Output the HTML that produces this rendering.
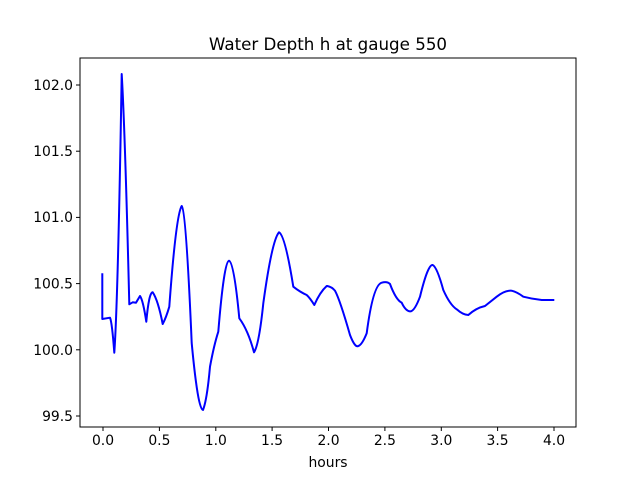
<!DOCTYPE html>
<html><head><style>body{margin:0;background:#fff}</style></head><body>
<svg width="640" height="480" xmlns="http://www.w3.org/2000/svg" font-family="DejaVu Sans, Liberation Sans, sans-serif" font-size="13.9">
<rect width="640" height="480" fill="#fff"/>
<text x="328" y="50" font-size="16.7" text-anchor="middle">Water Depth h at gauge 550</text>
<path fill="none" stroke="#0000ff" stroke-width="2" stroke-linejoin="round" stroke-linecap="square" d="M102.3,274.3 L102.3,319 L110,317.7 Q112,322 114.3,352.7 Q118,300 121.7,74 Q125,130 129.3,304.3 L132.7,302.3 L136,302.7 L140,296 Q143,300 146.3,321.7 Q149,292 152.7,292.3 Q158,300 162.7,324 Q166,318 169.3,306.7 Q176,215 181.7,206 Q186,210 191.7,343 Q198,410 203,410 Q207,400 210,366.7 Q214,345 218.3,331.7 Q224,262 229,260.7 Q234,262 239.3,318.3 Q248,330 254,352.3 Q259,345 263.3,303.3 Q272,240 279,232.3 Q285,235 293.3,286.7 Q300,292 306.7,295 Q310,298 314.3,305 Q320,292 326.7,286 L327.3,286 Q332,287 335,290.7 Q340,300 350,335 Q355,348 358.3,346 Q362,345 366.7,333.3 Q373,285 381.7,282.7 Q387,281 390,284 Q396,300 401.7,302.7 Q406,312 411,311.3 Q415,310 420,296.7 Q428,264 432.7,265 Q437,267 443.3,290 Q450,305 456.7,309.3 Q463,315 468.3,315 Q476,308 485,306 Q490,302 496.7,296.7 Q505,290 511.7,290.7 Q517,292 523.3,296.7 Q532,299 541.7,300 L553.3,300"/>
<rect x="80" y="58" width="496" height="369" fill="none" stroke="#000" stroke-width="1"/>
<g stroke="#000">
<line x1="103" y1="427" x2="103" y2="431"/><line x1="159.4" y1="427" x2="159.4" y2="431"/><line x1="215.8" y1="427" x2="215.8" y2="431"/><line x1="272.1" y1="427" x2="272.1" y2="431"/><line x1="328.5" y1="427" x2="328.5" y2="431"/><line x1="384.9" y1="427" x2="384.9" y2="431"/><line x1="441.3" y1="427" x2="441.3" y2="431"/><line x1="497.6" y1="427" x2="497.6" y2="431"/><line x1="554" y1="427" x2="554" y2="431"/>
<line x1="76" y1="85" x2="80" y2="85"/><line x1="76" y1="151.2" x2="80" y2="151.2"/><line x1="76" y1="217.4" x2="80" y2="217.4"/><line x1="76" y1="283.6" x2="80" y2="283.6"/><line x1="76" y1="349.8" x2="80" y2="349.8"/><line x1="76" y1="416" x2="80" y2="416"/>
</g>
<g text-anchor="middle">
<text x="103" y="445">0.0</text><text x="159.4" y="445">0.5</text><text x="215.8" y="445">1.0</text><text x="272.1" y="445">1.5</text><text x="328.5" y="445">2.0</text><text x="384.9" y="445">2.5</text><text x="441.3" y="445">3.0</text><text x="497.6" y="445">3.5</text><text x="554" y="445">4.0</text>
<text x="328" y="467">hours</text>
</g>
<g text-anchor="end">
<text x="73" y="90">102.0</text><text x="73" y="156">101.5</text><text x="73" y="222">101.0</text><text x="73" y="288.5">100.5</text><text x="73" y="355">100.0</text><text x="73" y="421">99.5</text>
</g>
</svg>
</body></html>
